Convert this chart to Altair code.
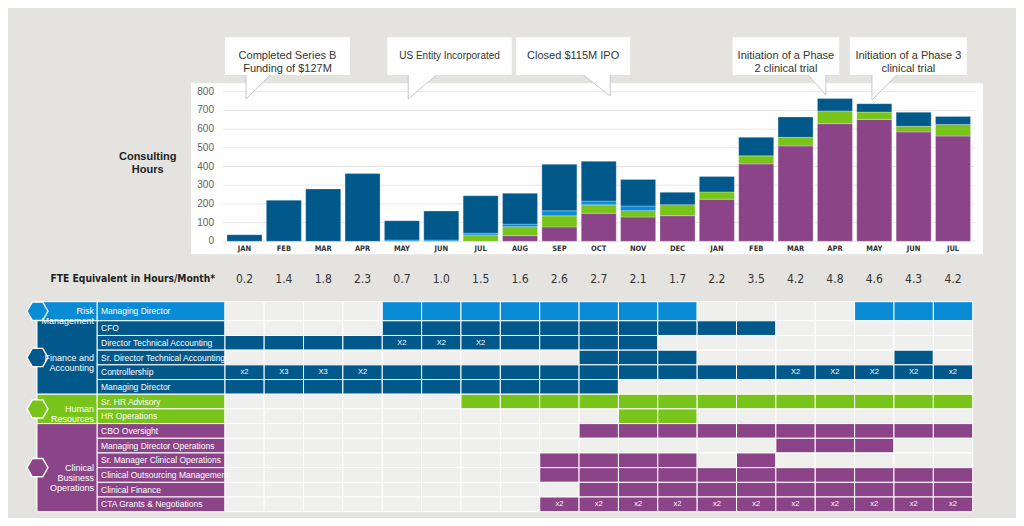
import altair as alt
import pandas as pd

# ---------------- data ----------------
months = ["JAN", "FEB", "MAR", "APR", "MAY", "JUN", "JUL", "AUG", "SEP", "OCT",
          "NOV", "DEC", "JAN", "FEB", "MAR", "APR", "MAY", "JUN", "JUL"]
clinical_hours = [0, 0, 0, 0, 0, 0, 0, 30, 77, 150, 130, 137, 225, 414, 510, 629, 652, 585, 563]
hr_hours = [0, 0, 0, 0, 0, 0, 34, 48, 59, 45, 34, 59, 39, 43, 46, 68, 39, 30, 62]
risk_hours = [0, 0, 0, 0, 7, 7, 9, 14, 27, 20, 25, 0, 0, 0, 0, 0, 0, 0, 0]
finance_hours = [35, 220, 280, 362, 103, 155, 201, 165, 249, 213, 142, 66, 82, 99, 109, 66, 45, 75, 43]
fte_per_month = ["0.2", "1.4", "1.8", "2.3", "0.7", "1.0", "1.5", "1.6", "2.6", "2.7",
                 "2.1", "1.7", "2.2", "3.5", "4.2", "4.8", "4.6", "4.3", "4.2"]
hour_ticks = [0, 100, 200, 300, 400, 500, 600, 700, 800]

event_texts = ["Completed Series B\nFunding of  $127M", "US Entity Incorporated",
               "Closed $115M IPO", "Initiation of a Phase\n2 clinical trial",
               "Initiation of a Phase 3\nclinical trial"]

groups = ["Risk Management", "Finance and Accounting", "Human Resources", "Clinical Business Operations"]
group_titles = ["Risk\nManagement", "Finance and\nAccounting", "Human\nResources", "Clinical\nBusiness\nOperations"]
roles = ["Managing Director", "CFO", "Director Technical Accounting",
         "Sr. Director Technical Accounting", "Controllership", "Managing Director",
         "Sr. HR Advisory", "HR Operations", "CBO Oversight", "Managing Director Operations",
         "Sr. Manager Clinical Operations", "Clinical Outsourcing Management",
         "Clinical Finance", "CTA Grants & Negotiations"]
role_group = [groups[0]] + [groups[1]] * 5 + [groups[2]] * 2 + [groups[3]] * 6
# '#' = engaged that month, '.' = not engaged
schedule = [
    "....########....###",
    "....##########.....",
    "###########........",
    ".........###.....#.",
    "###################",
    "##########.........",
    "......#############",
    "..........##.......",
    ".........##########",
    "..............###..",
    "........####.#.....",
    "........###########",
    ".........##########",
    "........###########",
]
multipliers = {
    2: {4: "X2", 5: "X2", 6: "X2"},
    4: {0: "x2", 1: "X3", 2: "X3", 3: "X2", 14: "X2", 15: "X2", 16: "X2", 17: "X2", 18: "x2"},
    13: {c: "x2" for c in range(8, 19)},
}

# ---------------- layout / style ----------------
W, H = 1008, 510
COL_RANGE = [216.8, 964.7]
HOUR_RANGE = [233.3, 83.7]
ROW_RANGE = [293.7, 503.7]
FIRST_ROW_EXTRA = 0.3
group_colors = ["#0a8bd5", "#00588b", "#78c41b", "#8b4488"]
EMPTY = "#efefee"
BG = "#e4e3e0"
SANS = "Liberation Sans, Arial, sans-serif"
NARROW = "Liberation Sans Narrow, DejaVu Sans Condensed, Arial Narrow, Liberation Sans, sans-serif"

# callout geometry, in month-column units (x) and hours units (y)
callout_left = [-0.495, 3.63, 6.90, 12.40, 15.38]
callout_right = [2.68, 6.79, 9.80, 15.11, 18.35]
callout_tip_x = [0.04, 4.16, 9.29, 14.77, 15.94]
callout_diag_x = [0.65, 4.88, 8.61, 14.32, 16.57]
callout_tip_y = [761, 761, 777, 782, 755]
callout_font = [11, 10, 11, 11, 11]
BOX_TOP, BOX_BOTTOM = 1091, 889


def col_scale():
    return alt.Scale(domain=[-0.5, 18.5], range=COL_RANGE, nice=False, zero=False)


def hour_scale():
    return alt.Scale(domain=[0, 800], range=HOUR_RANGE, nice=False, zero=False)


def row_scale():
    return alt.Scale(domain=[-FIRST_ROW_EXTRA, len(roles)], range=ROW_RANGE, nice=False, zero=False)


color_scale = alt.Scale(domain=groups + ["empty"], range=group_colors + [EMPTY])

# ---------------- tables ----------------
series = [(groups[3], clinical_hours), (groups[2], hr_hours), (groups[0], risk_hours), (groups[1], finance_hours)]
bar_rows = []
base = [0] * len(months)
for k, (name, vals) in enumerate(series):
    for c, v in enumerate(vals):
        if v > 0:
            bar_rows.append(dict(c0=c - 0.445, c1=c + 0.445, series=name,
                                 h0=base[c], h1=base[c] + v, k=k))
        base[c] += v
bar_df = pd.DataFrame(bar_rows)

month_df = pd.DataFrame(dict(c=list(range(len(months))), m=months, fte=fte_per_month))
tick_df = pd.DataFrame(dict(t=hour_ticks, label=[str(t) for t in hour_ticks]))

box_df = pd.DataFrame(dict(x0=callout_left, x1=callout_right, y0=[BOX_BOTTOM] * 5, y1=[BOX_TOP] * 5,
                           xm=[(a + b) / 2 for a, b in zip(callout_left, callout_right)],
                           ym=[(BOX_TOP + BOX_BOTTOM) / 2] * 5, text=event_texts, fs=callout_font))
ptr_rows = []
for i in range(5):
    ptr_rows.append(dict(id=i, x=callout_tip_x[i], top=BOX_BOTTOM + 20, bot=callout_tip_y[i]))
    ptr_rows.append(dict(id=i, x=callout_diag_x[i], top=BOX_BOTTOM + 20, bot=BOX_BOTTOM))
ptr_df = pd.DataFrame(ptr_rows)

cell_rows, label_rows = [], []
for i, (role, grp, sched) in enumerate(zip(roles, role_group, schedule)):
    r0 = -FIRST_ROW_EXTRA if i == 0 else i
    r1 = i + 1
    label_rows.append(dict(role=role, group=grp, r0=r0, r1=r1, rm=(r0 + r1) / 2))
    for c, ch in enumerate(sched):
        cell_rows.append(dict(c=c, c0=c - 0.5, c1=c + 0.5, r0=r0, r1=r1, rm=(r0 + r1) / 2,
                              state=grp if ch == "#" else "empty",
                              note=multipliers.get(i, {}).get(c, "")))
cell_df = pd.DataFrame(cell_rows)
label_df = pd.DataFrame(label_rows)

grp_rows = []
for g, title in zip(groups, group_titles):
    sub = label_df[label_df.group == g]
    g0, g1 = sub.r0.min(), sub.r1.max()
    grp_rows.append(dict(group=g, title=title, g0=g0, g1=g1, gm=(g0 + g1) / 2))
grp_df = pd.DataFrame(grp_rows)

# ---------------- layers ----------------
panel = alt.Chart(pd.DataFrame({"a": [0]})).mark_rect(fill="white").encode(
    x=alt.value(183), x2=alt.value(975), y=alt.value(75.3), y2=alt.value(246.3))

grid = alt.Chart(tick_df).mark_rule(color="#e6e6e6", strokeWidth=1).encode(
    y=alt.Y("t:Q", scale=hour_scale(), axis=None), x=alt.value(215), x2=alt.value(967))

ticks = alt.Chart(tick_df).mark_text(align="right", baseline="middle", fontSize=10,
                                     color="#5e5e5e", font=SANS).encode(
    y=alt.Y("t:Q", scale=hour_scale(), axis=None), x=alt.value(206), text="label:N")

bars = alt.Chart(bar_df).mark_rect(stroke="white", strokeWidth=0.6, strokeOpacity=0.45).encode(
    x=alt.X("c0:Q", scale=col_scale(), axis=None), x2="c1:Q",
    y=alt.Y("h0:Q", scale=hour_scale(), axis=None), y2="h1:Q",
    color=alt.Color("series:N", scale=color_scale, legend=None))

month_text = alt.Chart(month_df).mark_text(baseline="middle", fontSize=7.5, fontWeight="bold",
                                           color="#333333", font=NARROW).encode(
    x=alt.X("c:Q", scale=col_scale(), axis=None), y=alt.value(241), text="m:N")

pointers = alt.Chart(ptr_df).mark_area(fill="white", stroke="#b9b9b9", strokeWidth=0.8, opacity=1).encode(
    x=alt.X("x:Q", scale=col_scale(), axis=None),
    y=alt.Y("top:Q", scale=hour_scale(), axis=None, stack=None), y2="bot:Q",
    detail="id:N")

boxes = alt.Chart(box_df).mark_rect(fill="white").encode(
    x=alt.X("x0:Q", scale=col_scale(), axis=None), x2="x1:Q",
    y=alt.Y("y0:Q", scale=hour_scale(), axis=None), y2="y1:Q")

box_text = alt.Chart(box_df).mark_text(baseline="middle", color="#333333", font=SANS,
                                       lineBreak="\n", lineHeight=12.7).encode(
    x=alt.X("xm:Q", scale=col_scale(), axis=None),
    y=alt.Y("ym:Q", scale=hour_scale(), axis=None),
    size=alt.Size("fs:Q", scale=None), text="text:N")

consult = alt.Chart(pd.DataFrame({"t": ["Consulting\nHours"]})).mark_text(
    baseline="middle", fontSize=11, fontWeight="bold", color="#222222", font=SANS,
    lineBreak="\n", lineHeight=13).encode(x=alt.value(139.7), y=alt.value(149), text="t:N")

fte_title = alt.Chart(pd.DataFrame({"t": ["FTE Equivalent in Hours/Month*"]})).mark_text(
    align="right", baseline="middle", fontSize=10.2, fontWeight="bold", color="#222222",
    font=NARROW).encode(x=alt.value(207), y=alt.value(271), text="t:N")

fte_vals = alt.Chart(month_df).mark_text(baseline="middle", fontSize=12, color="#333333",
                                         font=NARROW).encode(
    x=alt.X("c:Q", scale=col_scale(), axis=None), y=alt.value(271), text="fte:N")

cells = alt.Chart(cell_df).mark_rect(stroke="white", strokeWidth=1).encode(
    x=alt.X("c0:Q", scale=col_scale(), axis=None), x2="c1:Q",
    y=alt.Y("r0:Q", scale=row_scale(), axis=None), y2="r1:Q",
    color=alt.Color("state:N", scale=color_scale, legend=None))

cell_text = alt.Chart(cell_df[cell_df.note != ""]).mark_text(
    baseline="middle", fontSize=7.5, color="white", font=SANS).encode(
    x=alt.X("c:Q", scale=col_scale(), axis=None),
    y=alt.Y("rm:Q", scale=row_scale(), axis=None), text="note:N")

label_cells = alt.Chart(label_df).mark_rect(stroke="white", strokeWidth=1).encode(
    x=alt.value(89), x2=alt.value(216.8),
    y=alt.Y("r0:Q", scale=row_scale(), axis=None), y2="r1:Q",
    color=alt.Color("group:N", scale=color_scale, legend=None))

label_text = alt.Chart(label_df).mark_text(align="left", baseline="middle", fontSize=8.5,
                                           color="white", font=SANS).encode(
    x=alt.value(93), y=alt.Y("rm:Q", scale=row_scale(), axis=None), text="role:N")

grp_cells = alt.Chart(grp_df).mark_rect(stroke="white", strokeWidth=1).encode(
    x=alt.value(29), x2=alt.value(89),
    y=alt.Y("g0:Q", scale=row_scale(), axis=None), y2="g1:Q",
    color=alt.Color("group:N", scale=color_scale, legend=None))

HEX = "M-1,0L-0.5,-0.866L0.5,-0.866L1,0L0.5,0.866L-0.5,0.866Z"
hexes = alt.Chart(grp_df).mark_point(shape=HEX, size=441, filled=True, opacity=1,
                                     stroke="white", strokeWidth=1.4).encode(
    x=alt.value(29.5), y=alt.Y("gm:Q", scale=row_scale(), axis=None),
    color=alt.Color("group:N", scale=color_scale, legend=None))

grp_text = alt.Chart(grp_df).mark_text(align="right", baseline="middle", fontSize=9,
                                       color="white", font=SANS, lineBreak="\n",
                                       lineHeight=10).encode(
    x=alt.value(86), y=alt.Y("gm:Q", scale=row_scale(), axis=None), text="title:N")

chart = alt.layer(
    panel, grid, bars, ticks, month_text, pointers, boxes, box_text, consult,
    fte_title, fte_vals, cells, cell_text, label_cells, label_text, grp_cells, hexes, grp_text
).resolve_scale(x="independent", y="independent", color="independent").properties(
    width=W, height=H, padding=0, autosize=alt.AutoSizeParams(type="none"),
    background=BG
).configure_view(stroke=None)

chart.save("out.html", embed_options={"renderer": "svg", "actions": False})
